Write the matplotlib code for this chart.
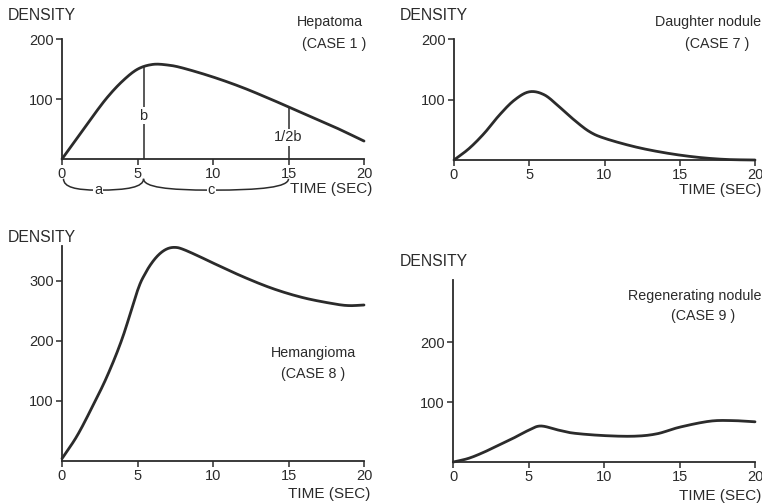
import numpy as np
import matplotlib
matplotlib.use("Agg")
import matplotlib.pyplot as plt
from matplotlib.path import Path
from matplotlib.patches import PathPatch

plt.rcParams['font.family'] = ['Liberation Sans', 'DejaVu Sans']

# ---- data ----
t_hep = [0, 1, 2, 3, 4, 5, 6, 7, 8, 10, 12, 14, 15, 16, 18, 20]
d_hep = [0, 35, 70, 103, 130, 150, 158, 157, 152, 137, 119, 98, 87, 76, 54, 30]

t_dau = [0, 1, 2, 3, 4, 5, 6, 7, 8, 9, 10, 12, 14, 16, 18, 20]
d_dau = [0, 19, 44, 74, 99, 113, 108, 88, 66, 47, 36, 22, 12, 5, 1, 0]

t_hem = [0, 1, 2, 3, 4, 5, 5.5, 6, 6.5, 7, 7.5, 8, 9, 10, 12, 14, 16, 18, 19, 20]
d_hem = [4, 42, 90, 142, 205, 284, 312, 332, 346, 354, 356, 353, 342, 330, 307, 287, 272, 262, 259, 260]

t_reg = [0, 1, 2, 3, 4, 5, 5.8, 7, 8, 10, 12, 13.5, 15, 17, 18.5, 20]
d_reg = [0, 6, 16, 28, 40, 53, 60, 53, 48, 44, 43, 47, 58, 68, 69, 67]

x_ticks = [0, 5, 10, 15, 20]
b_time, half_b_time = 5.4, 15.0

W, H = 762, 504
fig = plt.figure(figsize=(W / 100, H / 100), dpi=100)
ink = '#2b2b2b'


def ax_at(left, right, bottom, top_px):
    return fig.add_axes([left / W, (H - bottom) / H, (right - left) / W, (bottom - top_px) / H])


def ftext(x, y, s, ha='left', size=10.3):
    fig.text(x / W, 1 - y / H, s, ha=ha, va='center', fontsize=size, color=ink)


def style(ax, ymax, yticks):
    ax.set_xlim(0, 20)
    ax.set_ylim(0, ymax)
    for s in ['top', 'right']:
        ax.spines[s].set_visible(False)
    for s in ['left', 'bottom']:
        ax.spines[s].set_color(ink)
        ax.spines[s].set_linewidth(1.3)
    ax.set_xticks(x_ticks)
    ax.set_yticks(yticks)
    ax.tick_params(direction='out', length=4, width=1.1, color=ink,
                   labelsize=10.5, labelcolor=ink, pad=2)
    ax.patch.set_alpha(0)


ax1 = ax_at(62, 364, 159, 39.3)
ax2 = ax_at(454, 755, 160, 39.3)
ax3 = ax_at(62, 364, 461, 461 - 359 * 0.6)
ax4 = ax_at(453.3, 755, 462, 462 - 304 * 0.6)

style(ax1, 200, [100, 200])
style(ax2, 200, [100, 200])
style(ax3, 359, [100, 200, 300])
style(ax4, 304, [100, 200])


def smooth(t, d):
    pts = np.column_stack([np.array(t, float), np.array(d, float)])
    ext = np.vstack([pts[0] - (pts[1] - pts[0]), pts, pts[-1] + (pts[-1] - pts[-2])])
    xs, ys = [], []
    for i in range(1, len(ext) - 2):
        p0, p1, p2, p3 = ext[i - 1], ext[i], ext[i + 1], ext[i + 2]
        for u in np.linspace(0, 1, 20, endpoint=False):
            q = 0.5 * ((2 * p1) + (-p0 + p2) * u + (2 * p0 - 5 * p1 + 4 * p2 - p3) * u ** 2
                       + (-p0 + 3 * p1 - 3 * p2 + p3) * u ** 3)
            xs.append(q[0]); ys.append(q[1])
    xs.append(pts[-1][0]); ys.append(pts[-1][1])
    return xs, ys


for ax, t, d in [(ax1, t_hep, d_hep), (ax2, t_dau, d_dau), (ax3, t_hem, d_hem), (ax4, t_reg, d_reg)]:
    xs, ys = smooth(t, d)
    ax.plot(xs, ys, color=ink, lw=2.0, solid_capstyle='round', clip_on=False)

# ---- Hepatoma extras: b, 1/2b lines and a / c braces ----
b_val = np.interp(b_time, t_hep, d_hep)
hb_val = np.interp(half_b_time, t_hep, d_hep)
ax1.plot([b_time, b_time], [0, b_val], color=ink, lw=1.1)
ax1.plot([half_b_time, half_b_time], [0, hb_val], color=ink, lw=1.1)
ax1.text(b_time, 72, 'b', ha='center', va='center', fontsize=10.5, color=ink,
         bbox=dict(fc='white', ec='none', pad=1))
ax1.text(half_b_time, 36, '1/2b', ha='center', va='center', fontsize=10.5, color=ink,
         bbox=dict(fc='white', ec='none', pad=1))


def brace(ax, x0, x1, xm, label):
    ytop, ylow = -33, -52
    verts = [(x0, ytop), (x0, -47), (x0 + 0.35 * (xm - x0), ylow), (xm, ylow),
             (x1 - 0.35 * (x1 - xm), ylow), (x1, -47), (x1, ytop)]
    codes = [Path.MOVETO, Path.CURVE4, Path.CURVE4, Path.CURVE4,
             Path.CURVE4, Path.CURVE4, Path.CURVE4]
    ax.add_patch(PathPatch(Path(verts, codes), fc='none', ec=ink, lw=1.1, clip_on=False))
    ax.text(xm, ylow, label, ha='center', va='center', fontsize=10.5, color=ink,
            bbox=dict(fc='white', ec='none', pad=0.5), clip_on=False)


brace(ax1, 0.1, b_time, 2.4, 'a')
brace(ax1, b_time, half_b_time, 9.9, 'c')

# ---- texts ----
for x, y in [(8, 16), (400, 16), (8, 238), (400, 262)]:
    ftext(x, y, 'DENSITY', size=11.3)

ftext(372, 189, 'TIME (SEC)', ha='right', size=11)
ftext(761, 190, 'TIME (SEC)', ha='right', size=11)
ftext(370, 494, 'TIME (SEC)', ha='right', size=11)
ftext(761, 496, 'TIME (SEC)', ha='right', size=11)

ftext(363, 22, 'Hepatoma', ha='right')
ftext(366, 44, '(CASE 1 )', ha='right')
ftext(761, 22, 'Daughter nodule', ha='right')
ftext(717, 44, '(CASE 7 )', ha='center')
ftext(313, 353, 'Hemangioma', ha='center')
ftext(313, 374, '(CASE 8 )', ha='center')
ftext(761, 296, 'Regenerating nodule', ha='right')
ftext(703, 316, '(CASE 9 )', ha='center')

fig.savefig('out.png', dpi=100, facecolor='white')
